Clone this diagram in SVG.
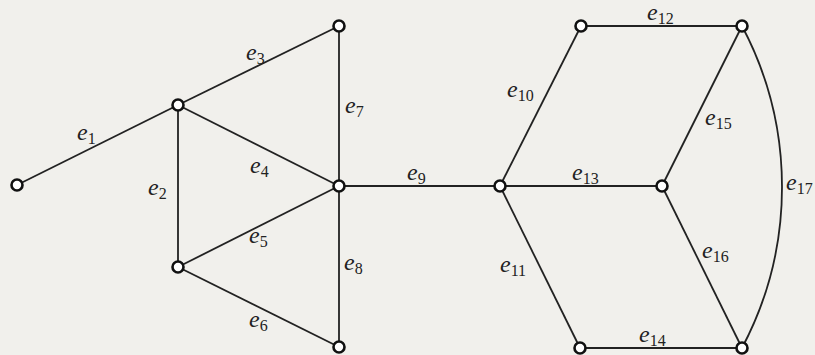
<svg xmlns="http://www.w3.org/2000/svg" width="815" height="355" viewBox="0 0 815 355">
<style>
.bg{fill:#f1f0ec}
.ed{stroke:#222;stroke-width:1.8;fill:none}
.nd{fill:#fff;stroke:#111;stroke-width:2.6}
.lb{font-family:"Liberation Serif",serif;font-size:24px;font-style:italic;fill:#222}
.sb{font-size:16px;font-style:normal}
</style>
<rect class="bg" x="0" y="0" width="815" height="355"/>
<g id="edges">
<line class="ed" x1="17" y1="185" x2="178" y2="105"/>
<line class="ed" x1="178" y1="105" x2="178" y2="267"/>
<line class="ed" x1="178" y1="105" x2="339" y2="26"/>
<line class="ed" x1="178" y1="105" x2="339" y2="186"/>
<line class="ed" x1="178" y1="267" x2="339" y2="186"/>
<line class="ed" x1="178" y1="267" x2="339" y2="347"/>
<line class="ed" x1="339" y1="26" x2="339" y2="186"/>
<line class="ed" x1="339" y1="186" x2="339" y2="347"/>
<line class="ed" x1="339" y1="186" x2="500" y2="186"/>
<line class="ed" x1="500" y1="186" x2="581" y2="26"/>
<line class="ed" x1="500" y1="186" x2="580" y2="348"/>
<line class="ed" x1="581" y1="26" x2="742" y2="26"/>
<line class="ed" x1="500" y1="186" x2="662" y2="186"/>
<line class="ed" x1="580" y1="348" x2="742" y2="348"/>
<line class="ed" x1="662" y1="186" x2="742" y2="26"/>
<line class="ed" x1="662" y1="186" x2="742" y2="348"/>
<path class="ed" d="M742 26 A344 344 0 0 1 742 348"/>
</g>
<g id="labels">
<text class="lb" x="77" y="140">e<tspan class="sb" dy="4">1</tspan></text>
<text class="lb" x="148" y="195">e<tspan class="sb" dy="4">2</tspan></text>
<text class="lb" x="246" y="60">e<tspan class="sb" dy="4">3</tspan></text>
<text class="lb" x="250" y="173">e<tspan class="sb" dy="4">4</tspan></text>
<text class="lb" x="249" y="243">e<tspan class="sb" dy="4">5</tspan></text>
<text class="lb" x="249" y="327">e<tspan class="sb" dy="4">6</tspan></text>
<text class="lb" x="345" y="113">e<tspan class="sb" dy="4">7</tspan></text>
<text class="lb" x="344" y="270">e<tspan class="sb" dy="4">8</tspan></text>
<text class="lb" x="407" y="180">e<tspan class="sb" dy="4">9</tspan></text>
<text class="lb" x="507" y="97">e<tspan class="sb" dy="4">10</tspan></text>
<text class="lb" x="500" y="272">e<tspan class="sb" dy="4">11</tspan></text>
<text class="lb" x="647" y="20">e<tspan class="sb" dy="4">12</tspan></text>
<text class="lb" x="572" y="180">e<tspan class="sb" dy="4">13</tspan></text>
<text class="lb" x="639" y="342">e<tspan class="sb" dy="4">14</tspan></text>
<text class="lb" x="705" y="125">e<tspan class="sb" dy="4">15</tspan></text>
<text class="lb" x="702" y="258">e<tspan class="sb" dy="4">16</tspan></text>
<text class="lb" x="786" y="190">e<tspan class="sb" dy="4">17</tspan></text>
</g>
<g id="nA"><circle class="nd" cx="17" cy="185" r="5.5"/></g>
<g id="nB"><circle class="nd" cx="178" cy="105" r="5.5"/></g>
<g id="nC"><circle class="nd" cx="339" cy="26" r="5.5"/></g>
<g id="nD"><circle class="nd" cx="339" cy="186" r="5.5"/></g>
<g id="nE"><circle class="nd" cx="178" cy="267" r="5.5"/></g>
<g id="nF"><circle class="nd" cx="339" cy="347" r="5.5"/></g>
<g id="nG"><circle class="nd" cx="500" cy="186" r="5.5"/></g>
<g id="nH"><circle class="nd" cx="581" cy="26" r="5.5"/></g>
<g id="nI"><circle class="nd" cx="742" cy="26" r="5.5"/></g>
<g id="nJ"><circle class="nd" cx="662" cy="186" r="5.5"/></g>
<g id="nK"><circle class="nd" cx="580" cy="348" r="5.5"/></g>
<g id="nL"><circle class="nd" cx="742" cy="348" r="5.5"/></g>
</svg>
